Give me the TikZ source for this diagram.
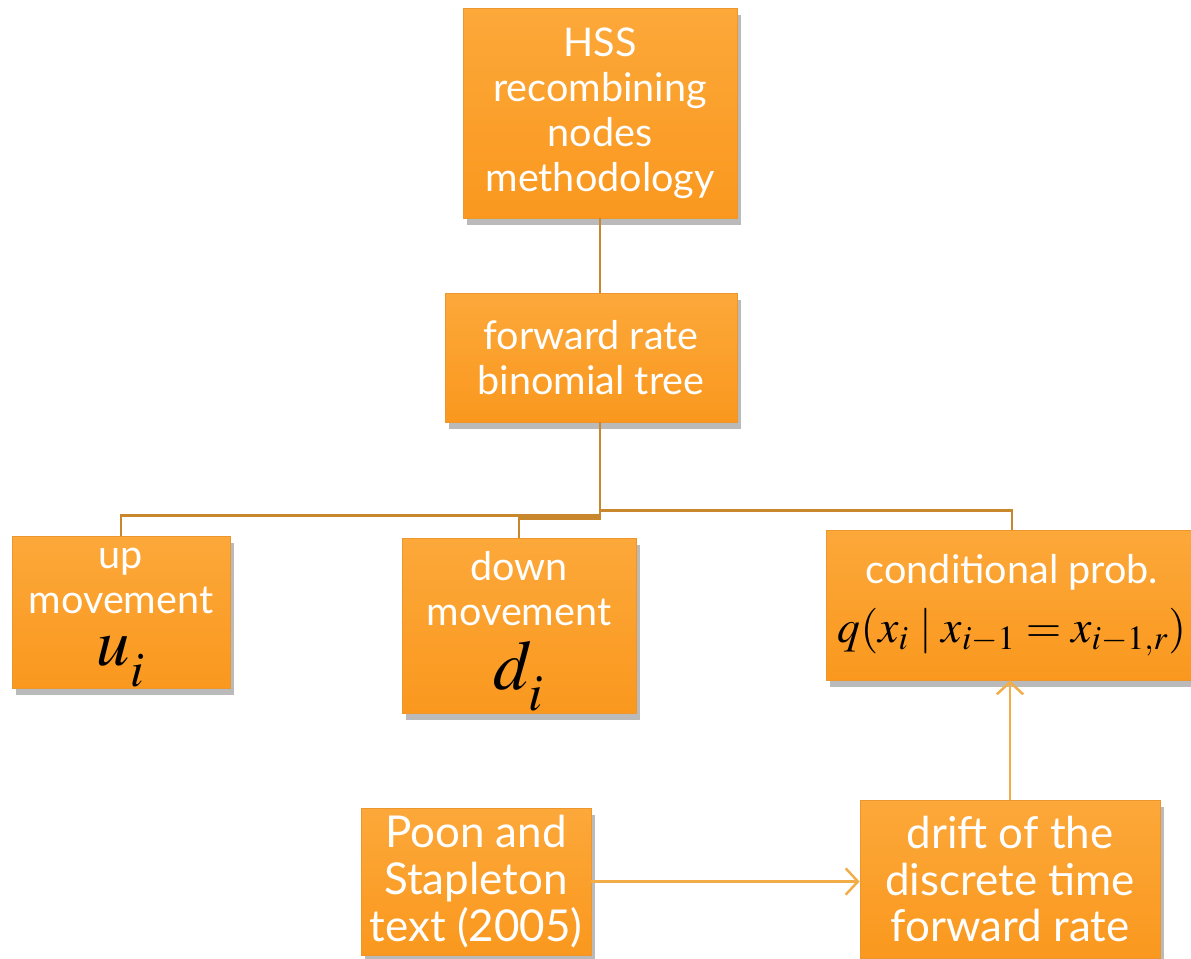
\documentclass[tikz,border=0pt]{standalone}
\usepackage{mathptmx}
\usepackage[no-math]{fontspec}
\setmainfont{Lato}
\usetikzlibrary{calc}
\usetikzlibrary{arrows.meta}
\usetikzlibrary{shadows}
\definecolor{boxtop}{RGB}{252, 168, 58}
\definecolor{boxmid}{RGB}{246, 134, 0}
\definecolor{boxbot}{RGB}{250, 152, 30}
\definecolor{boxrim}{RGB}{238, 150, 46}
\definecolor{branch}{RGB}{200, 135, 45}
\definecolor{feed}{RGB}{242, 172, 72}

\newcommand{\lowsub}[1]{_{\smash{\raisebox{-6pt}{$\scriptstyle #1$}}}}

\tikzset{
  orangebox/.style={draw=boxrim, thin, top color=boxtop, middle color=boxmid, bottom color=boxbot,
    text=white, align=center, inner sep=0pt,
    font=\fontsize{22.5}{25.6}\selectfont,
    drop shadow={shadow xshift=2pt, shadow yshift=-4pt, opacity=0.45, fill=black!60}},
  branchline/.style={branch, line width=1.4pt},
  feedline/.style={feed, line width=1.4pt, -{Straight Barb[length=7pt, width=15pt]}}
}

\begin{document}
\begin{tikzpicture}
            % Frame to fix the page size
            \useasboundingbox (0.00, 0.00) rectangle (23.82, -19.16);
            % Top of the tree
            \node[orangebox, minimum width=5.48cm, minimum height=4.20cm] (hss)   at (12.00, -2.26)
                 {HSS\\recombining\\nodes\\methodology};
            \node[orangebox, minimum width=5.84cm, minimum height=2.58cm] (fwd)   at (11.82, -7.15)
                 {forward rate\\binomial tree};
            % Branches
            \node[orangebox, minimum width=4.36cm, minimum height=3.04cm] (up)    at ( 2.42,-12.24)
                 {up\\movement\\[4pt]{\fontsize{38}{38}\selectfont\color{black}$u\lowsub{i}$}};
            \node[orangebox, minimum width=4.68cm, minimum height=3.50cm] (down)  at (10.38,-12.51)
                 {down\\movement\\[8pt]{\fontsize{40}{40}\selectfont\color{black}$d\lowsub{i}$}};
            \node[orangebox, minimum width=7.44cm, minimum height=3.00cm] (cond)  at (20.24,-12.10)
                 {conditional prob.\\[8pt]{\fontsize{26}{30}\selectfont\color{black}$q(x_i\mid x_{i-1}=x_{i-1,r})$}};
            % Inputs
            \node[orangebox, minimum width=4.60cm, minimum height=2.94cm,
                  font=\fontsize{25}{26.5}\selectfont] (poon)  at ( 9.52,-17.63)
                 {Poon and\\Stapleton\\text (2005)};
            \node[orangebox, minimum width=6.00cm, minimum height=3.16cm,
                  font=\fontsize{25}{26.5}\selectfont] (drift) at (20.20,-17.58)
                 {drift of the\\discrete time\\forward rate};
            % Tree lines
            \draw[branchline] (hss.south) -- (hss.south |- fwd.north);
            \draw[branchline] (hss.south |- fwd.south) -- ++(0,-1.86) -| (up.north);
            \draw[branchline] (hss.south |- fwd.south) -- ++(0,-1.92) -| (down.north);
            \draw[branchline] (hss.south |- fwd.south) -- ++(0,-1.76) -| (cond.north);
            % Feeds
            \draw[feedline] (poon.east) -- (poon.east -| drift.west);
            \draw[feedline] (drift.north) -- (drift.north |- cond.south);
\end{tikzpicture}
\end{document}
